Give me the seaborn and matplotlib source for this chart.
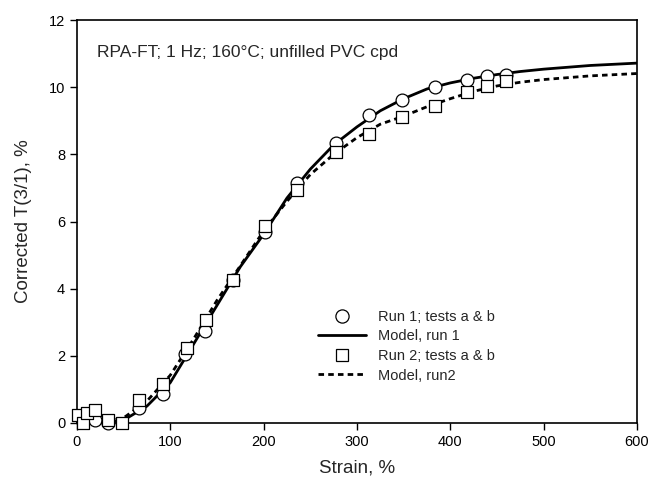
import matplotlib
matplotlib.use("Agg")
import matplotlib.pyplot as plt
import seaborn as sns
import pandas as pd
from matplotlib.lines import Line2D

# Run 1 measurements (circles)
run1_strain = [6.5, 19, 33, 67, 92.5, 116, 137, 166.7, 202, 236, 278, 313, 348, 384, 418, 439, 460]
run1_t31 = [0.04, 0.09, 0.0, 0.44, 0.85, 2.05, 2.75, 4.25, 5.68, 7.15, 8.33, 9.17, 9.63, 10.0, 10.22, 10.33, 10.37]

# Run 2 measurements (squares)
run2_strain = [1, 6.5, 11, 19, 33, 48, 67, 92.5, 117.5, 138, 166.7, 201, 236, 278, 313, 348, 384, 418, 439, 460]
run2_t31 = [0.22, 0.0, 0.3, 0.39, 0.08, 0.0, 0.69, 1.16, 2.23, 3.07, 4.25, 5.88, 6.94, 8.08, 8.62, 9.12, 9.44, 9.86, 10.04, 10.2]

# Model curves
model_strain = [0, 25, 50, 75, 100, 125, 150, 175, 200, 225, 250, 275, 300, 325, 350,
                375, 400, 425, 450, 475, 500, 550, 600]
model_run1 = [0.0, 0.0, 0.08, 0.5, 1.2, 2.35, 3.5, 4.65, 5.62, 6.7, 7.56, 8.28, 8.82, 9.3, 9.66,
              9.95, 10.13, 10.27, 10.38, 10.47, 10.54, 10.65, 10.72]
model_run2 = [0.0, 0.02, 0.15, 0.65, 1.42, 2.5, 3.65, 4.68, 5.72, 6.6, 7.4, 8.0, 8.5, 8.9, 9.14,
              9.42, 9.66, 9.88, 10.04, 10.15, 10.23, 10.34, 10.41]

sns.set_style("ticks")
plt.rcParams['font.family'] = ['Liberation Sans', 'DejaVu Sans']

fig = plt.figure(figsize=(6.52, 4.8), dpi=100)
ax = fig.add_axes([0.118, 0.119, 0.859, 0.839])

df_m = pd.DataFrame({"strain": model_strain, "m1": model_run1, "m2": model_run2})
df_r1 = pd.DataFrame({"strain": run1_strain, "t": run1_t31})
df_r2 = pd.DataFrame({"strain": run2_strain, "t": run2_t31})

sns.lineplot(data=df_m, x="strain", y="m1", ax=ax, color="black", lw=2.0, zorder=2)
sns.lineplot(data=df_m, x="strain", y="m2", ax=ax, color="black", lw=2.0,
             linestyle=(0, (2, 1.5)), zorder=2)
sns.scatterplot(data=df_r1, x="strain", y="t", ax=ax, marker="o", s=85,
                facecolor="white", edgecolor="black", linewidth=0.9, zorder=3,
                clip_on=False)
sns.scatterplot(data=df_r2, x="strain", y="t", ax=ax, marker="s", s=65,
                facecolor="white", edgecolor="black", linewidth=0.9, zorder=4,
                clip_on=False)

ax.set_xlim(0, 600)
ax.set_ylim(0, 12)
ax.set_xticks([0, 100, 200, 300, 400, 500, 600])
ax.set_yticks([0, 2, 4, 6, 8, 10, 12])
ax.tick_params(axis="both", direction="out", length=5, width=1, labelsize=10.5,
               colors="black", top=False, right=False)
for s in ax.spines.values():
    s.set_color("black")
    s.set_linewidth(1.2)

ax.set_xlabel("Strain, %", fontsize=13.5, labelpad=8)
ax.set_ylabel("Corrected T(3/1), %", fontsize=13.5, labelpad=12)

ax.text(0.035, 0.92, "RPA-FT; 1 Hz; 160°C; unfilled PVC cpd", transform=ax.transAxes,
        fontsize=12.5, ha="left", va="center")

handles = [
    Line2D([], [], marker="o", ls="none", markersize=9.5, markerfacecolor="white",
           markeredgecolor="black", markeredgewidth=0.9),
    Line2D([], [], color="black", lw=2.0),
    Line2D([], [], marker="s", ls="none", markersize=8, markerfacecolor="white",
           markeredgecolor="black", markeredgewidth=0.9),
    Line2D([], [], color="black", lw=2.0, linestyle=(0, (2, 1.5))),
]
labels = ["Run 1; tests a & b", "Model, run 1", "Run 2; tests a & b", "Model, run2"]
ax.legend(handles, labels, loc="upper left", bbox_to_anchor=(0.42, 0.295),
          frameon=False, fontsize=10.5, handlelength=3.3, handletextpad=0.8,
          labelspacing=0.38, borderaxespad=0)

fig.savefig("out.png", dpi=100)
